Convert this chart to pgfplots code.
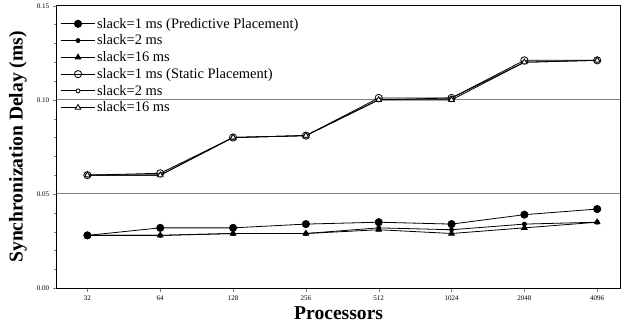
\documentclass[border=0pt]{standalone}
\usepackage{pgfplots}
\pgfplotsset{compat=1.18}
\usepackage{fontspec}
\setmainfont{Liberation Serif}
\begin{document}
\begin{tikzpicture}
\begin{axis}[
  scale only axis,
  width=559bp, height=280bp,
  xmin=-0.42, xmax=7.32,
  ymin=0, ymax=0.15,
  xtick={0,1,2,3,4,5,6,7},
  xticklabels={32,64,128,256,512,1024,2048,4096},
  ytick={0,0.05,0.10,0.15},
  minor y tick num=4,
  yticklabel style={/pgf/number format/.cd,fixed,fixed zerofill,precision=2},
  /pgf/number format/assume math mode=true,
  tick label style={font=\fontsize{7}{8}\selectfont},
  tick align=outside,
  major tick length=4bp, minor tick length=2.5bp,
  xtick pos=bottom,
  ytick pos=left,
  ymajorgrids,
  grid style={gray, line width=1pt},
  axis line style={line width=0.9pt},
  xlabel={Processors},
  ylabel={Synchronization Delay (ms)},
  label style={font=\fontsize{19.5}{21}\selectfont\bfseries},
  xlabel style={at={(axis description cs:0.5,0)}, anchor=base, yshift=-31bp, inner ysep=6bp},
  ylabel style={at={(axis description cs:0,0.5)}, anchor=center, yshift=38.5bp, inner ysep=9bp},
  legend style={draw=none, fill=none, at={(0,1)}, anchor=north west, xshift=1bp, yshift=-8bp,
    font=\fontsize{14.4}{15}\selectfont, row sep=1.2bp},
  legend cell align=left,
  legend image code/.code={\draw[mark repeat=2,mark phase=2,#1] plot coordinates {(0cm,0cm) (0.58cm,0cm) (1.16cm,0cm)};},
]
\addplot[black, line width=0.8pt, mark=*, mark size=3.6pt] coordinates {
(0,0.028) (1,0.032) (2,0.032) (3,0.034) (4,0.035) (5,0.034) (6,0.039) (7,0.042)};
\addlegendentry{slack=1 ms (Predictive Placement)}
\addplot[black, line width=0.8pt, mark=*, mark size=2pt] coordinates {
(0,0.028) (1,0.028) (2,0.029) (3,0.029) (4,0.032) (5,0.031) (6,0.034) (7,0.035)};
\addlegendentry{slack=2 ms}
\addplot[black, line width=0.8pt, mark=triangle*, mark size=3.2pt] coordinates {
(0,0.028) (1,0.028) (2,0.029) (3,0.029) (4,0.031) (5,0.029) (6,0.032) (7,0.035)};
\addlegendentry{slack=16 ms}
\addplot[black, line width=0.8pt, mark=o, mark size=3.6pt, mark options={fill=white}] coordinates {
(0,0.060) (1,0.061) (2,0.080) (3,0.081) (4,0.101) (5,0.101) (6,0.121) (7,0.121)};
\addlegendentry{slack=1 ms (Static Placement)}
\addplot[black, line width=0.8pt, mark=*, mark size=2pt, mark options={fill=white}] coordinates {
(0,0.060) (1,0.060) (2,0.080) (3,0.081) (4,0.100) (5,0.101) (6,0.120) (7,0.121)};
\addlegendentry{slack=2 ms}
\addplot[black, line width=0.8pt, mark=triangle*, mark size=3.2pt, mark options={fill=white}] coordinates {
(0,0.060) (1,0.060) (2,0.080) (3,0.081) (4,0.100) (5,0.100) (6,0.120) (7,0.121)};
\addlegendentry{slack=16 ms}
\end{axis}
\end{tikzpicture}
\end{document}
